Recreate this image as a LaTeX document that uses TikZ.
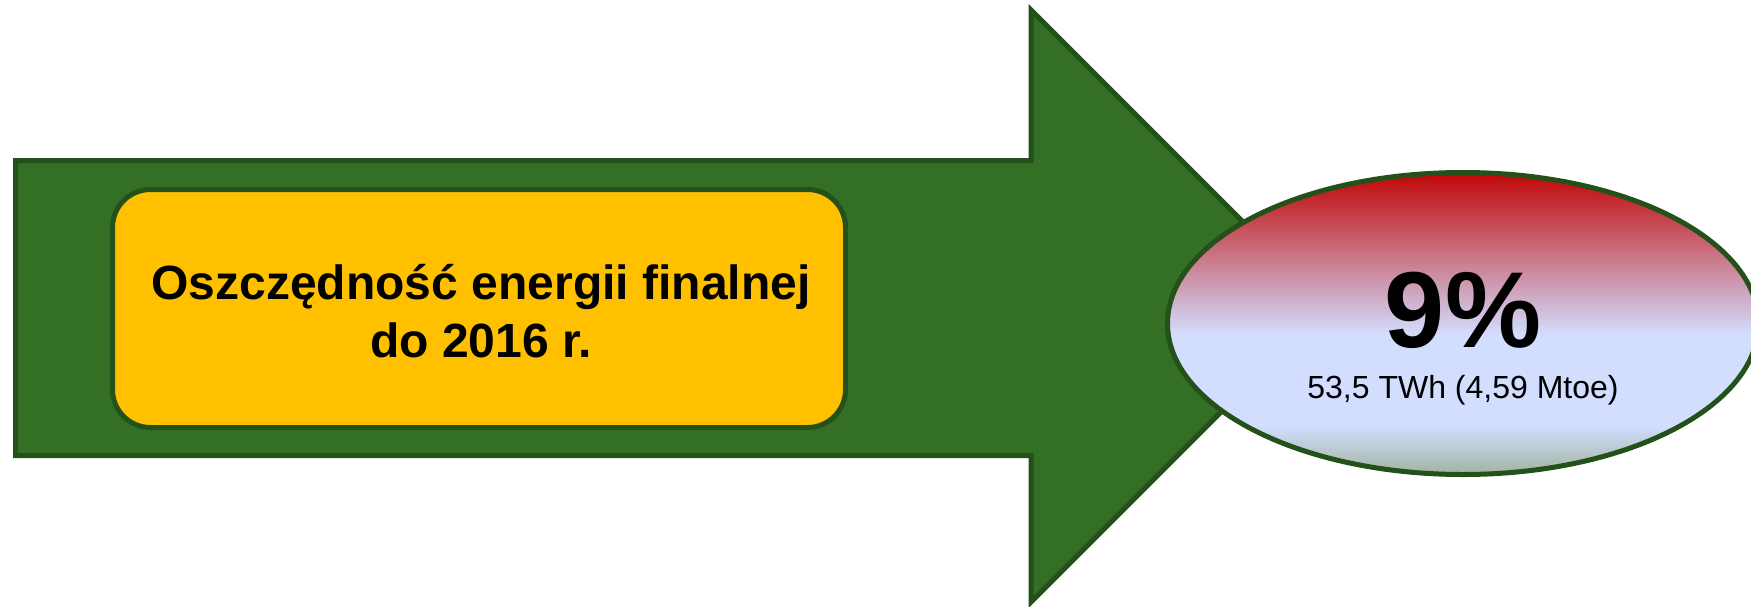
\documentclass[tikz,border=0pt]{standalone}
\usepackage{fontspec}
\setmainfont{Liberation Sans}
\usetikzlibrary{shapes.geometric}
\definecolor{arrgreen}{RGB}{51,111,36}
\definecolor{edgegreen}{RGB}{36,80,26}
\definecolor{boxyellow}{RGB}{255,192,0}
\definecolor{ellred}{RGB}{192,0,0}
\definecolor{ellblue}{RGB}{211,222,255}
\definecolor{ellgreen}{RGB}{155,176,152}
\begin{document}
\begin{tikzpicture}[x=1pt,y=-1pt,line join=miter,
  outline/.style={draw=edgegreen, line width=5pt},
  goalbox/.style={outline, fill=boxyellow, rounded corners=38pt, inner sep=0pt,
    minimum width=733pt, minimum height=238pt},
  goallabel/.style={align=center, inner sep=0pt,
    font=\fontsize{48}{58}\selectfont\bfseries},
  resultell/.style={ellipse, outline, inner sep=0pt, minimum width=591pt, minimum height=302pt},
  bigpct/.style={anchor=base, inner sep=0pt, font=\fontsize{108}{112}\selectfont\bfseries},
  smallamt/.style={anchor=base, inner sep=0pt, font=\fontsize{32}{38}\selectfont}]
\useasboundingbox (0,0) rectangle (1751,606);
% big arrow
\draw[outline, fill=arrgreen] (15.5,160.5) -- (1031,160.5) -- (1031,10) -- (1327,306)
  -- (1031,602) -- (1031,455.5) -- (15.5,455.5) -- cycle;
% yellow box
\node[goalbox] (goal) at (479,308.5) {};
\node[goallabel] (goaltext) at (481,311.5) {Oszczędność energii finalnej\\do 2016 r.};
% ellipse with gradient (path picture coordinates are relative to the node centre)
\node[resultell, path picture={
    \fill[ellblue] (-310,6.5) rectangle (310,106.5);
    \fill[top color=ellred, bottom color=ellblue] (-310,-155.5) rectangle (310,11.5);
    \fill[top color=ellblue, bottom color=ellgreen] (-310,101.5) rectangle (310,155.5);
  }] (result) at (1463,323.5) {};
\node[bigpct] (pct) at (1463,347) {9\%};
\node[smallamt] (amount) at (1463,398) {53,5 TWh (4,59 Mtoe)};
\end{tikzpicture}
\end{document}
